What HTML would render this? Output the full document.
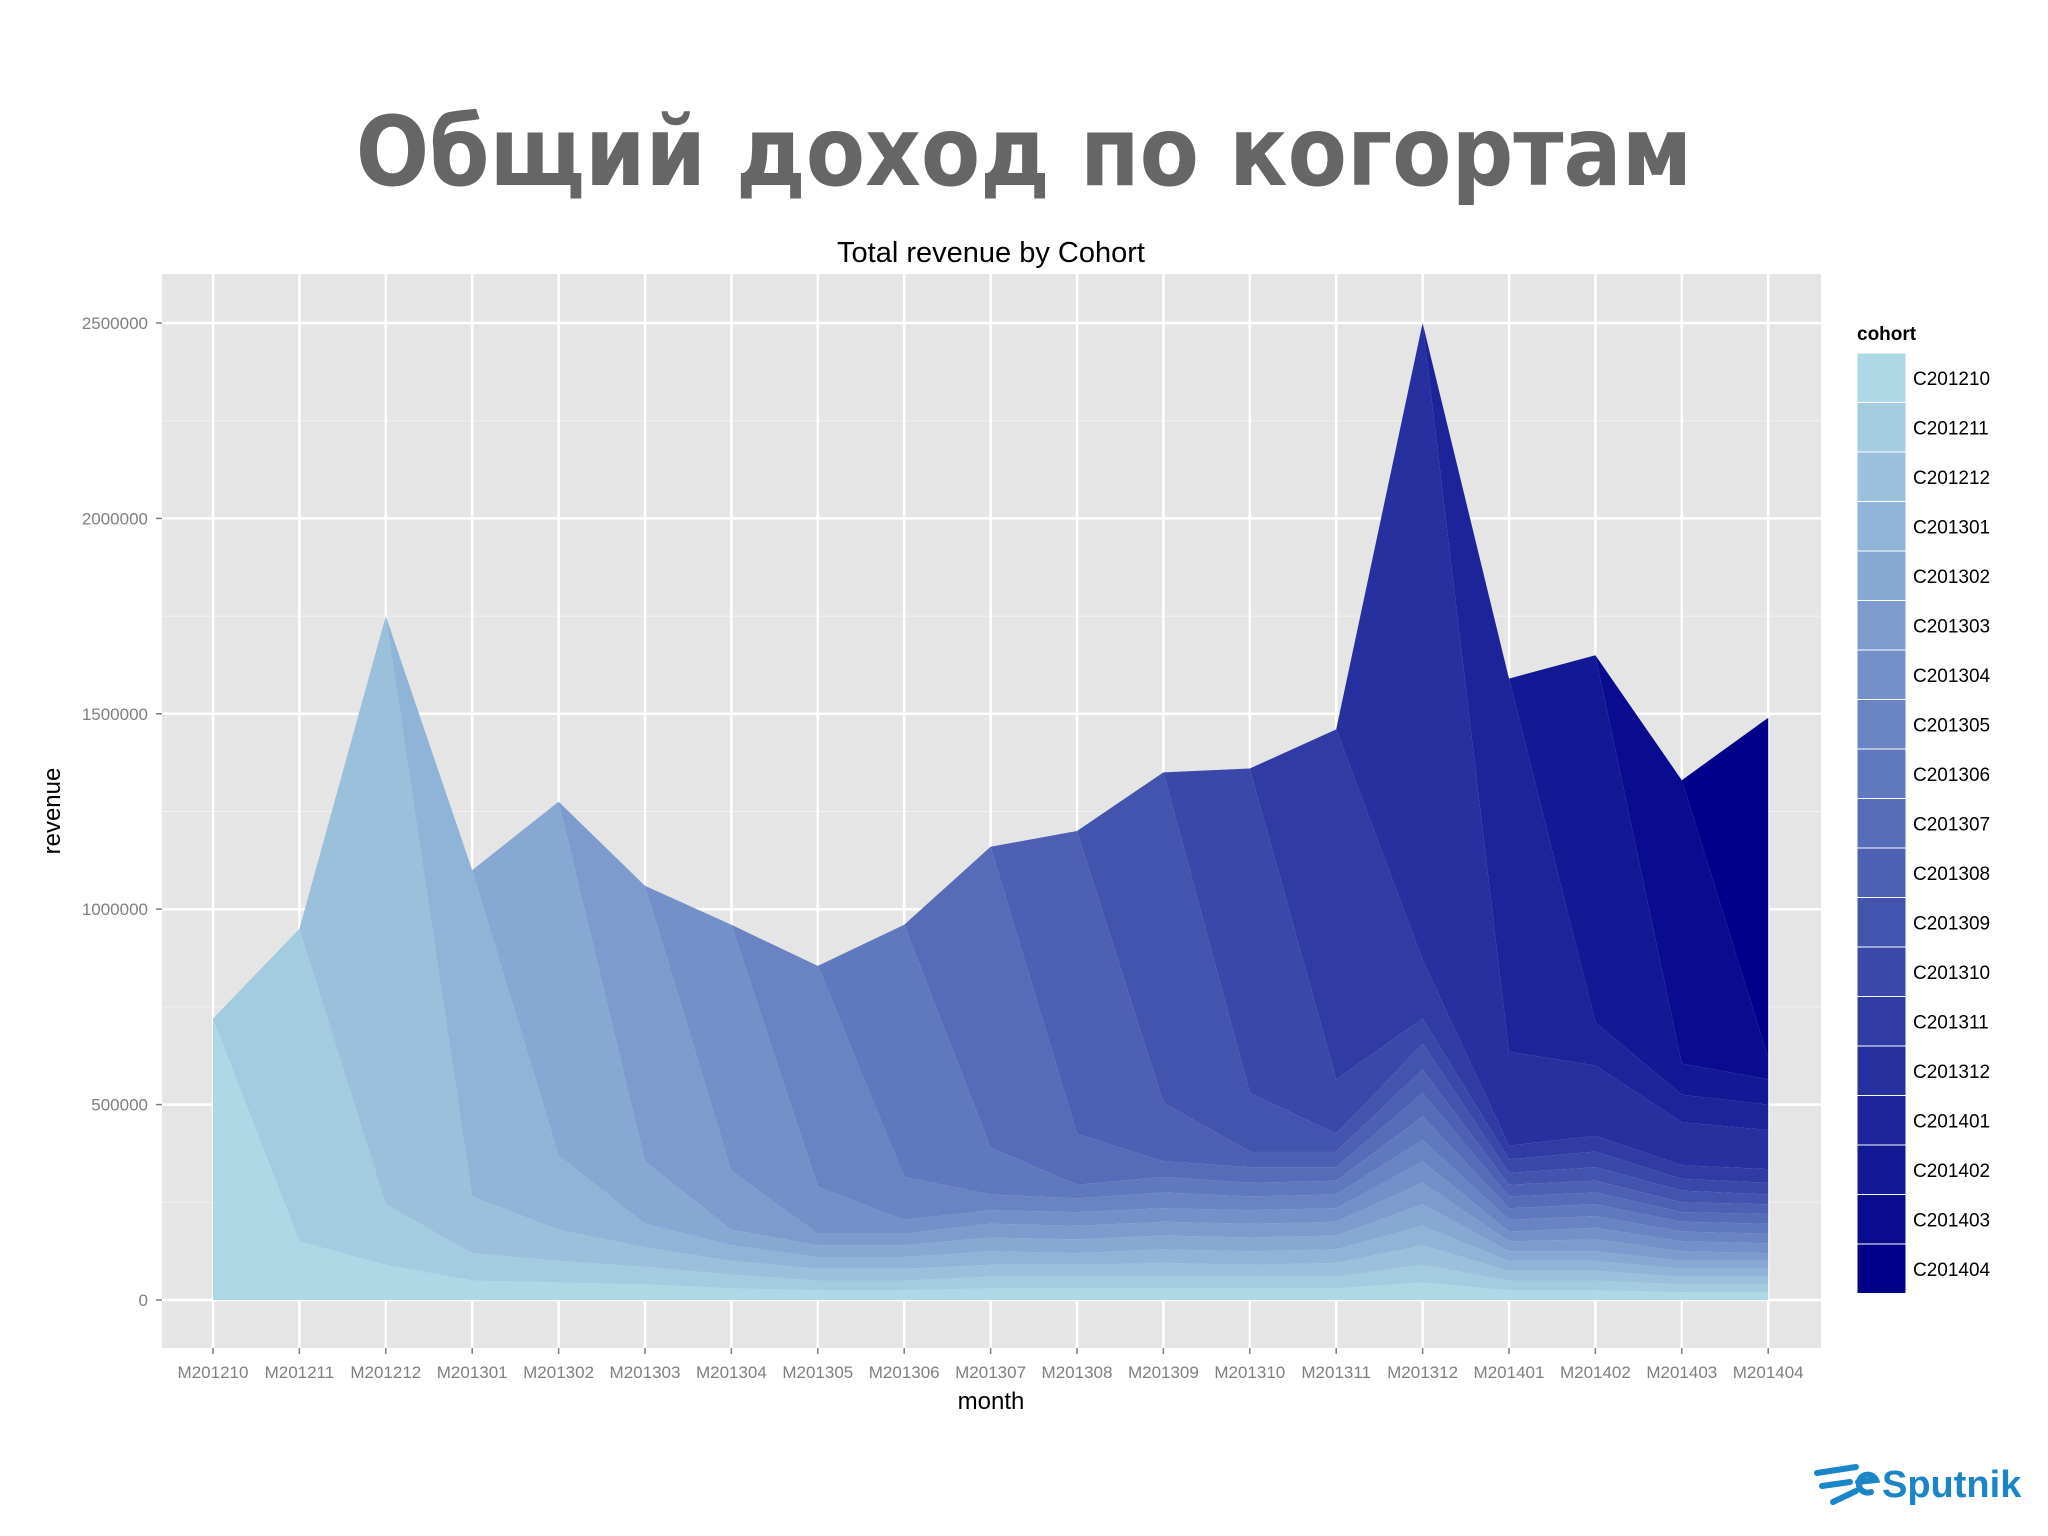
<!DOCTYPE html>
<html><head><meta charset="utf-8"><style>
html,body{margin:0;padding:0;background:#fff;}
body{width:2048px;height:1536px;overflow:hidden;position:relative;font-family:"Liberation Sans",sans-serif;}
#title{position:absolute;left:0;width:2048px;top:92px;text-align:center;font-family:"DejaVu Sans Condensed","DejaVu Sans","Liberation Sans",sans-serif;font-weight:bold;font-size:96px;color:#666;line-height:120px;}
svg{position:absolute;left:0;top:0;}
</style></head><body>
<div id="title">Общий доход по когортам</div>
<svg id="chart" width="2048" height="1536"></svg>
<script>
const months=["M201210","M201211","M201212","M201301","M201302","M201303","M201304","M201305","M201306","M201307","M201308","M201309","M201310","M201311","M201312","M201401","M201402","M201403","M201404"];
const cohorts=["C201210","C201211","C201212","C201301","C201302","C201303","C201304","C201305","C201306","C201307","C201308","C201309","C201310","C201311","C201312","C201401","C201402","C201403","C201404"];
// revenue (thousands) per month, one value per active cohort (oldest first)
const monthValues=[
[720],
[150,800],
[90,155,1505],
[50,70,145,835],
[45,55,80,190,905],
[40,45,50,60,160,705],
[30,35,35,40,40,150,630],
[25,25,30,30,30,30,120,565],
[25,25,30,30,30,30,35,110,645],
[30,30,30,35,35,35,35,40,120,770],
[30,30,30,30,35,35,35,35,35,130,775],
[30,30,35,35,35,35,35,40,40,40,150,845],
[30,30,30,35,35,35,35,35,35,40,40,150,830],
[30,30,35,35,35,35,35,35,35,35,40,45,140,895],
[45,45,50,50,55,55,55,55,60,60,60,65,65,150,1630],
[25,25,25,25,25,25,25,30,30,30,30,30,35,35,240,955],
[25,25,25,25,25,30,30,30,30,30,30,35,40,40,180,110,940],
[20,20,20,20,20,25,25,25,25,25,25,30,30,35,110,70,80,725],
[20,20,20,20,20,20,25,25,25,25,25,25,30,35,100,65,65,55,870]
];
const yTicks=[0,500000,1000000,1500000,2000000,2500000];
const yTickLabels=["0","500000","1000000","1500000","2000000","2500000"];

const NS="http://www.w3.org/2000/svg";
const svg=document.getElementById('chart');
const P={l:162,r:1821,t:274,b:1348};
const x0=213,dx=86.4;
function xs(i){return x0+i*dx;}
function ys(v){return 1300-v*(977/2500000);}
function mk(tag,attrs,parent){const e=document.createElementNS(NS,tag);for(const k in attrs)e.setAttribute(k,attrs[k]);(parent||svg).appendChild(e);return e;}

const panel=mk('rect',{x:P.l,y:P.t,width:P.r-P.l,height:P.b-P.t,fill:'#e5e5e5'});


for(let v=250000;v<=2750000;v+=500000){const y=ys(v);if(y<P.t)continue;const l=mk('line',{x1:P.l,x2:P.r,y1:y,y2:y,stroke:'#f2f2f2','stroke-width':1});}
for(let i=0;i<yTicks.length;i++){const y=ys(yTicks[i]);const l=mk('line',{x1:P.l,x2:P.r,y1:y,y2:y,stroke:'#fff','stroke-width':2.5});}
for(let i=0;i<months.length;i++){const l=mk('line',{x1:xs(i),x2:xs(i),y1:P.t,y2:P.b,stroke:'#fff','stroke-width':2.5});}

function color(c){const t=c/(cohorts.length-1);const a=[173,216,230],b=[0,0,139];return 'rgb('+a.map((v,i)=>Math.round(v+(b[i]-v)*t)).join(',')+')';}
for(let c=0;c<cohorts.length;c++){
  const lo=[],hi=[];
  for(let m=0;m<months.length;m++){
    const vals=monthValues[m];let below=0;for(let k=0;k<Math.min(c,vals.length);k++)below+=vals[k];
    const v=c<vals.length?vals[c]:0;
    lo.push([xs(m),ys(below*1000)]);hi.push([xs(m),ys((below+v)*1000)]);
  }
  const pts=hi.concat(lo.reverse()).map(p=>p[0].toFixed(1)+','+p[1].toFixed(1)).join(' ');
  const poly=mk('polygon',{points:pts,fill:color(c)});
  
  
}
for(let i=0;i<yTicks.length;i++){const y=ys(yTicks[i]);
  const t=mk('line',{x1:P.l-6,x2:P.l,y1:y,y2:y,stroke:'#7f7f7f','stroke-width':1.5});
  const tx=mk('text',{x:P.l-14,y:y+6,'text-anchor':'end','font-size':17,fill:'#7f7f7f'});tx.textContent=yTickLabels[i];}
for(let i=0;i<months.length;i++){
  const t=mk('line',{x1:xs(i),x2:xs(i),y1:P.b,y2:P.b+6,stroke:'#7f7f7f','stroke-width':1.5});
  const tx=mk('text',{x:xs(i),y:1378,'text-anchor':'middle','font-size':17,fill:'#7f7f7f'});tx.textContent=months[i];}
let e;
e=mk('text',{x:991,y:262,'text-anchor':'middle','font-size':29,fill:'#000'});e.textContent='Total revenue by Cohort';
e=mk('text',{x:991,y:1409,'text-anchor':'middle','font-size':24,fill:'#000'});e.textContent='month';
e=mk('text',{x:60,y:811,'text-anchor':'middle','font-size':24,fill:'#000',transform:'rotate(-90 60 811)'});e.textContent='revenue';
const lg=mk('g',{});
e=mk('text',{x:1857,y:340,'font-size':19,'font-weight':'bold',fill:'#000'},lg);e.textContent='cohort';
for(let c=0;c<cohorts.length;c++){const y=353+c*49.5;
  const r=mk('rect',{x:1857,y:y,width:49,height:49.5,fill:color(c),stroke:'#fff','stroke-width':1},lg);
  const t=mk('text',{x:1913,y:y+32,'font-size':19,fill:'#000'},lg);t.textContent=cohorts[c];}
const lo=mk('g',{});
mk('path',{d:'M1817 1473 L1856 1467 M1822 1486 L1850 1482 M1833 1502 L1856 1491',stroke:'#1a86c8','stroke-width':6,'stroke-linecap':'round',fill:'none'},lo);
mk('path',{d:'M1858 1482 L1876 1480 A9 9 0 1 0 1871 1492',stroke:'#1a86c8','stroke-width':6,fill:'none','stroke-linecap':'round'},lo);
e=mk('text',{x:1882,y:1497,'font-size':38,'font-weight':'bold',fill:'#1a86c8'},lo);e.textContent='Sputnik';
</script>
</body></html>
